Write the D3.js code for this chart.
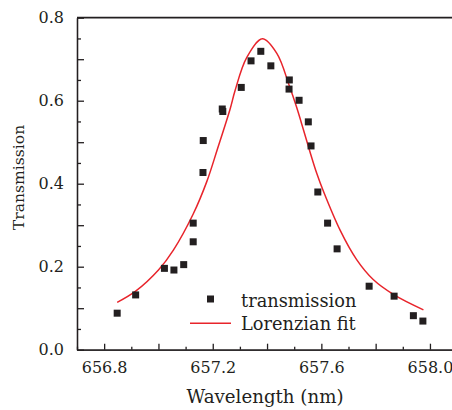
<!DOCTYPE html>
<html>
<head>
<meta charset="utf-8">
<script src="https://cdn.jsdelivr.net/npm/d3@7"></script>
<style>
	body { margin: 0; background: #fff; }
	svg text { font-family: "DejaVu Serif", serif; fill: #231f20; }
	.axis path, .axis line { stroke: #231f20; stroke-width: 1.3; }
</style>
</head>
<body>
<svg width="452" height="410"></svg>
<script>
// measured points (transmission)
const wavelength = [656.848, 656.916, 657.022, 657.057, 657.093, 657.128, 657.128, 657.164, 657.165,
	657.235, 657.237, 657.305, 657.341, 657.377, 657.414, 657.482, 657.481, 657.518, 657.552,
	657.562, 657.587, 657.623, 657.658, 657.776, 657.868, 657.939, 657.974];
const transmission = [0.088, 0.132, 0.196, 0.192, 0.205, 0.260, 0.305, 0.427, 0.504,
	0.580, 0.574, 0.632, 0.696, 0.719, 0.684, 0.650, 0.628, 0.601, 0.549,
	0.491, 0.380, 0.305, 0.243, 0.153, 0.129, 0.082, 0.069];

// Lorenzian fit
const fitX = [656.848, 656.916, 657.000, 657.055, 657.128, 657.178, 657.217, 657.264, 657.282,
	657.325, 657.383, 657.436, 657.482, 657.509, 657.534, 657.558, 657.583, 657.608, 657.669,
	657.730, 657.791, 657.868, 657.976];
const fitY = [0.114, 0.141, 0.192, 0.240, 0.327, 0.405, 0.483, 0.580, 0.624,
	0.704, 0.749, 0.714, 0.636, 0.584, 0.530, 0.477, 0.425, 0.381, 0.288,
	0.217, 0.169, 0.132, 0.096];

const xMajor = [656.8, 657.0, 657.2, 657.4, 657.6, 657.8, 658.0],
	xMinor = [656.7, 656.9, 657.1, 657.3, 657.5, 657.7, 657.9, 658.1],
	xLabels = [656.8, 657.2, 657.6, 658.0];
const yMajor = [0.0, 0.1, 0.2, 0.3, 0.4, 0.5, 0.6, 0.7, 0.8],
	yMinor = [0.05, 0.15, 0.25, 0.35, 0.45, 0.55, 0.65, 0.75],
	yLabels = [0.0, 0.2, 0.4, 0.6, 0.8];

const legendNames = ['transmission', 'Lorenzian fit'];

const padLeft = 77, padTop = 17.7, padBottom = 349.7;
const svg = d3.select('svg');

const xScale = d3.scaleLinear().domain([656.7, 658.1]).range([padLeft, padLeft + 1.4 * 271.5]);
const yScale = d3.scaleLinear().domain([0, 0.8]).range([padBottom, padTop]);

const near = (v, list) => list.some(l => Math.abs(l - v) < 1e-6);

// top frame line
svg.append('line')
	.attr('x1', padLeft).attr('x2', 452)
	.attr('y1', padTop).attr('y2', padTop)
	.attr('stroke', '#231f20').attr('stroke-width', 1.8);

// x axis
svg.append('g')
	.attr('class', 'axis')
	.attr('transform', `translate(0,${padBottom})`)
	.call(d3.axisBottom(xScale).tickValues(xMinor).tickSize(-3).tickSizeOuter(0).tickFormat(''));
let xAxis = svg.append('g')
	.attr('class', 'axis')
	.attr('transform', `translate(0,${padBottom})`)
	.call(d3.axisBottom(xScale).tickValues(xMajor).tickSize(-6).tickSizeOuter(0).tickPadding(12)
		.tickFormat(d => near(d, xLabels) ? d3.format('.1f')(d) : ''));
xAxis.selectAll('text').style('font-size', '16px').style('font-family', '"DejaVu Serif", serif');

// y axis
svg.append('g')
	.attr('class', 'axis')
	.attr('transform', `translate(${padLeft},0)`)
	.call(d3.axisLeft(yScale).tickValues(yMinor).tickSize(-4).tickSizeOuter(0).tickFormat(''));
let yAxis = svg.append('g')
	.attr('class', 'axis')
	.attr('transform', `translate(${padLeft},0)`)
	.call(d3.axisLeft(yScale).tickValues(yMajor).tickSize(-7).tickSizeOuter(0).tickPadding(13)
		.tickFormat(d => near(d, yLabels) ? d3.format('.1f')(d) : ''));
yAxis.selectAll('text').style('font-size', '16px').style('font-family', '"DejaVu Serif", serif');

// fit curve
const line = d3.line()
	.x((d, i) => xScale(fitX[i]))
	.y(d => yScale(d))
	.curve(d3.curveCatmullRom);

svg.append('path')
	.datum(fitY)
	.attr('d', line)
	.attr('fill', 'none')
	.attr('stroke', '#e8242b')
	.attr('stroke-width', 1.5);

// data squares
const sq = 7;
svg.selectAll('rect.pt')
	.data(transmission)
	.enter()
	.append('rect')
	.attr('class', 'pt')
	.attr('x', (d, i) => xScale(wavelength[i]) - sq / 2)
	.attr('y', d => yScale(d) - sq / 2)
	.attr('width', sq)
	.attr('height', sq)
	.attr('fill', '#231f20');

// legend
svg.append('rect')
	.attr('x', 210.5 - sq / 2).attr('y', 299 - sq / 2)
	.attr('width', sq).attr('height', sq)
	.attr('fill', '#231f20');
svg.append('line')
	.attr('x1', 190).attr('x2', 231)
	.attr('y1', 323.3).attr('y2', 323.3)
	.attr('stroke', '#e8242b').attr('stroke-width', 1.5);
svg.selectAll('text.leg')
	.data(legendNames)
	.enter()
	.append('text')
	.attr('class', 'leg')
	.attr('x', 241)
	.attr('y', (d, i) => 306.5 + i * 23.5)
	.style('font-size', '17.8px')
	.text(d => d);

// axis titles
svg.append('text')
	.attr('x', xScale(657.4) - 2)
	.attr('y', 403)
	.attr('text-anchor', 'middle')
	.style('font-size', '18.2px')
	.text('Wavelength (nm)');

svg.append('text')
	.attr('transform', `translate(23.5,${177.5}) rotate(-90)`)
	.attr('text-anchor', 'middle')
	.style('font-size', '15.6px')
	.text('Transmission');
</script>
</body>
</html>
